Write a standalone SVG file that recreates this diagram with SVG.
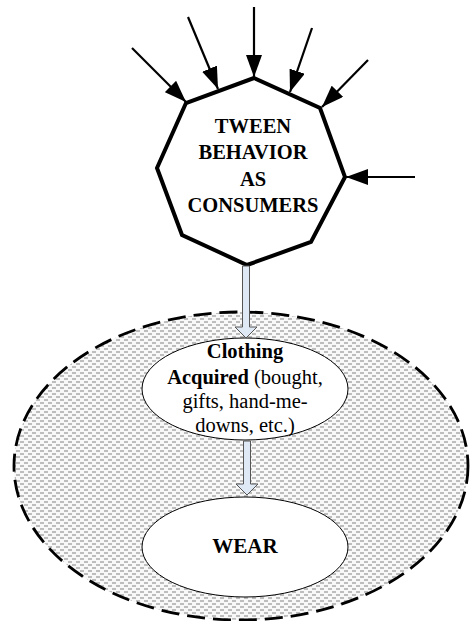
<svg xmlns="http://www.w3.org/2000/svg" width="470" height="621" viewBox="0 0 470 621">
<defs>
<style>
.t{font-family:"Liberation Serif","Times New Roman",serif;fill:#000;text-anchor:middle}
.b{font-weight:bold}
.ar{stroke:#000;stroke-width:2.2;fill:none}
.tube{fill:#dfe8f5;stroke:#555;stroke-width:1}
</style>
<marker id="ah" viewBox="0 0 22 16" refX="22" refY="8" markerWidth="22" markerHeight="16" markerUnits="userSpaceOnUse" orient="auto">
<path d="M0,0 L22,8 L0,16 Z" fill="#000"/>
</marker>
<pattern id="dots" width="8" height="6" patternUnits="userSpaceOnUse">
<rect width="8" height="6" fill="#f8f8f8"/>
<rect x="0" y="0" width="4" height="2" fill="#bdbdbd"/>
<rect x="4" y="3" width="4" height="2" fill="#bdbdbd"/>
</pattern>
</defs>
<g id="region">
<ellipse cx="241" cy="466" rx="227" ry="154" fill="url(#dots)" stroke="#000" stroke-width="2.8" stroke-dasharray="18,8"/>
</g>
<g id="tween">
<polygon points="254,78 320,108 345,177 311,242 247,265 182,235 157,168 186,103" fill="#fff" stroke="#000" stroke-width="4" stroke-linejoin="miter"/>
<text class="t b" font-size="20.5" x="253" y="133">TWEEN</text>
<text class="t b" font-size="20.5" x="253" y="159">BEHAVIOR</text>
<text class="t b" font-size="20.5" x="253" y="186">AS</text>
<text class="t b" font-size="20.5" x="253" y="212">CONSUMERS</text>
</g>
<g id="clothing">
<ellipse cx="245" cy="389" rx="103" ry="51" fill="#fff" stroke="#000" stroke-width="1"/>
<text class="t" font-size="20.5" x="245" y="358"><tspan class="b">Clothing</tspan></text>
<text class="t" font-size="20.5" x="245" y="384"><tspan class="b">Acquired</tspan> (bought,</text>
<text class="t" font-size="20.5" x="245" y="408">gifts, hand-me-</text>
<text class="t" font-size="20.5" x="245" y="432">downs, etc.)</text>
</g>
<g id="wear">
<ellipse cx="245" cy="547" rx="103" ry="50" fill="#fff" stroke="#000" stroke-width="1"/>
<text class="t b" font-size="21" x="245" y="553">WEAR</text>
</g>
<g id="connectors">
<line class="ar" x1="132" y1="48" x2="186" y2="102" marker-end="url(#ah)"/>
<line class="ar" x1="188" y1="17" x2="218" y2="89" marker-end="url(#ah)"/>
<line class="ar" x1="254" y1="7" x2="254" y2="77" marker-end="url(#ah)"/>
<line class="ar" x1="312" y1="28" x2="290" y2="92" marker-end="url(#ah)"/>
<line class="ar" x1="368" y1="60" x2="322" y2="107" marker-end="url(#ah)"/>
<line class="ar" x1="415" y1="177" x2="346" y2="177" marker-end="url(#ah)"/>
<path class="tube" d="M242.5,266 L249.5,266 L249.5,327 L257,327 L246,338 L235,327 L242.5,327 Z"/>
<path class="tube" d="M243.5,441 L250.5,441 L250.5,484 L258,484 L247,495 L236,484 L243.5,484 Z"/>
</g>
</svg>
